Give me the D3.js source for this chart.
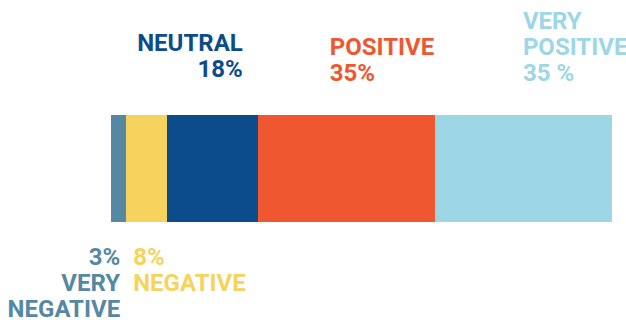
<!DOCTYPE html>
<html>
<head>
<meta charset="utf-8">
<script src="https://cdn.jsdelivr.net/npm/d3@7"></script>
<style>
  html, body { margin: 0; padding: 0; background: #fff; }
  svg { display: block; }
  text { font-family: Roboto, "Noto Sans", sans-serif; font-weight: 700; }
</style>
</head>
<body>
<svg id="chart" width="626" height="322"></svg>
<script>
// Sentiment shares, in bar order
const categories = ["VERY NEGATIVE", "NEGATIVE", "NEUTRAL", "POSITIVE", "VERY POSITIVE"];
const values = [3, 8, 18, 35, 35];
const valueLabels = ["3%", "8%", "18%", "35%", "35 %"];
const colors = ["#5687a3", "#f5d35c", "#0d4c8a", "#ef5730", "#9dd6e4"];

// Label text lines per category (value first when the label sits below the bar)
const labelLines = [
  ["3%", "VERY", "NEGATIVE"],
  ["8%", "NEGATIVE"],
  ["NEUTRAL", "18%"],
  ["POSITIVE", "35%"],
  ["VERY", "POSITIVE", "35 %"]
];

// Label placement: horizontal offset from the segment edge, anchor, first baseline
const labelLayout = [
  { edge: "end",   dx: -6,  anchor: "end",   y: 265 },
  { edge: "start", dx: 7,   anchor: "start", y: 265 },
  { edge: "end",   dx: -15, anchor: "end",   y: 51 },
  { edge: "start", dx: 72,  anchor: "start", y: 55 },
  { edge: "start", dx: 88,  anchor: "start", y: 29 }
];

const svg = d3.select("#chart");
const total = d3.sum(values);

const x = d3.scaleLinear().domain([0, total]).range([111, 612]);
const y = d3.scaleBand().domain(["all"]).range([115, 222]).padding(0);

const starts = d3.cumsum([0, ...values]).slice(0, values.length);
const segs = values.map((v, i) => ({
  name: categories[i], value: v, start: starts[i], end: starts[i] + v,
  color: colors[i], lines: labelLines[i], layout: labelLayout[i]
}));

svg.append("g")
  .selectAll("rect")
  .data(segs)
  .join("rect")
  .attr("x", d => x(d.start))
  .attr("y", y("all"))
  .attr("width", d => x(d.end) - x(d.start))
  .attr("height", y.bandwidth())
  .attr("fill", d => d.color)
  .attr("shape-rendering", "crispEdges");

const lineHeight = 26;

const labels = svg.append("g")
  .selectAll("text")
  .data(segs)
  .join("text")
  .attr("x", d => (d.layout.edge === "end" ? x(d.end) : x(d.start)) + d.layout.dx)
  .attr("y", d => d.layout.y)
  .attr("text-anchor", d => d.layout.anchor)
  .attr("fill", d => d.color)
  .style("font-size", "24px");

labels.selectAll("tspan")
  .data(d => d.lines.map((t, i) => ({ t, i, d })))
  .join("tspan")
  .attr("x", o => (o.d.layout.edge === "end" ? x(o.d.end) : x(o.d.start)) + o.d.layout.dx)
  .attr("dy", o => o.i === 0 ? 0 : lineHeight)
  .text(o => o.t);
</script>
</body>
</html>
